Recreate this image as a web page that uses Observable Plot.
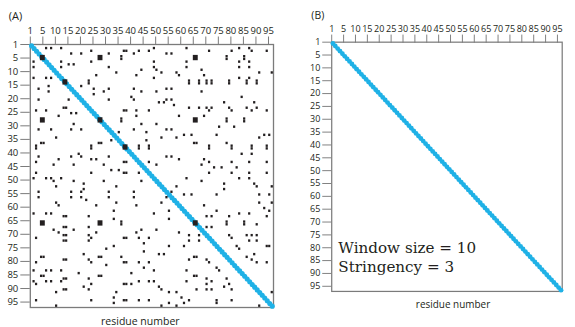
<!DOCTYPE html>
<html><head><meta charset="utf-8">
<script src="https://cdn.jsdelivr.net/npm/d3@7"></script>
<script src="https://cdn.jsdelivr.net/npm/@observablehq/plot@0.6"></script>
<style>
html,body{margin:0;padding:0;background:#fff;overflow:hidden}
#wrap{position:relative;width:575px;height:327px;overflow:hidden;background:#fff}
#a,#b{position:absolute;top:0}
#a{left:0}
#b{left:303px}
</style></head><body>
<div id="wrap"><div id="a"></div><div id="b"></div></div>
<script>
// residue positions of the sequence (compared against itself)
const residues = [1,2,3,4,5,6,7,8,9,10,11,12,13,14,15,16,17,18,19,20,21,22,23,24,25,26,27,28,29,30,31,32,33,34,35,36,37,38,39,40,41,42,43,44,45,46,47,48,49,50,51,52,53,54,55,56,57,58,59,60,61,62,63,64,65,66,67,68,69,70,71,72,73,74,75,76,77,78,79,80,81,82,83,84,85,86,87,88,89,90,91,92,93,94,95,96,97];

// axis ticks
const tickValues = [0,5,10,15,20,25,30,35,40,45,50,55,60,65,70,75,80,85,90,95];
const tickLabels = ["1","5","10","15","20","25","30","35","40","45","50","55","60","65","70","75","80","85","90","95"];

// matches (x residue, y residue) read above the diagonal in panel A; the self-comparison is symmetric
const upperMatches = [
  [7,2],[9,2],[13,2],[17,4],[21,4],[25,3],[32,4],[38,3],[39,3],[42,4],[44,3],[48,3],[50,2],[55,4],[57,4],[63,2],[72,3],[81,3],[84,2],[88,2],[89,3],[95,3],
  [37,5],[37,6],[79,5],[79,6],[86,5],[86,6],
  [13,7],[13,9],[16,8],[18,8],[25,7],[32,9],[50,7],[50,9],[51,10],[53,11],[63,7],[63,9],[84,7],[84,9],[88,7],[88,9],[35,11],[27,12],[43,12],[45,10],[59,11],[60,12],[69,10],[70,12],[92,11],[97,11],[50,13],[84,13],[88,13],
  [24,14],[24,15],[64,14],[64,15],[68,14],[68,15],[71,14],[71,15],[73,14],[73,15],[80,14],[80,15],[87,14],[87,15],[91,14],[91,15],
  [21,16],[26,17],[26,19],[32,17],[32,21],[30,18],[42,17],[45,18],[51,18],[55,17],[57,17],[69,18],[41,20],[42,21],[52,22],[54,22],[55,21],[57,21],[58,23],[78,22],[85,20],[90,22],
  [38,25],[39,25],[43,25],[48,25],[64,24],[68,24],[71,24],[72,25],[73,24],[80,24],[81,25],[87,24],[89,25],[91,24],[95,25],[60,27],[70,27],[43,27],
  [37,28],[37,29],[79,28],[79,29],[86,28],[86,29],
  [45,30],[51,30],[76,31],[82,31],[42,32],[47,33],[55,32],[57,32],[36,33],[53,35],[59,35],[62,34],[65,34],[75,34],[92,35],[94,34],[96,34],[47,36],
  [66,37],[67,37],[79,37],[44,38],[44,39],[48,38],[48,39],[72,38],[72,39],[81,38],[81,39],[89,38],[89,39],[95,38],[95,39],
  [85,41],[89,41],[55,42],[57,42],[60,43],[70,43],[69,45],[72,44],[81,44],[88,44],[95,44],[48,44],[51,45],[83,46],[74,46],[77,46],[72,48],[81,48],[88,48],[95,48],
  [63,50],[69,51],[84,50],[88,50],[78,52],[78,54],[90,52],[91,53],[59,53],[57,55],[97,53],[62,56],[65,56],[75,56],[92,56],[96,56],[92,59],[97,59],
  [70,60],[75,62],[80,64],[84,63],[88,63],[94,61],[96,62],[71,64],[73,64],[95,64],[79,66],[79,67],[86,66],[86,67],
  [71,68],[73,68],[91,67],[80,71],[81,72],[87,71],[89,71],[91,71],[88,73],[91,73],[83,75],[84,76],[87,79],[89,80],[90,78],[91,81],[95,81],[95,75],[96,75],[97,92]
];
// larger (2x2) match blocks, top-left residue
const upperBlocks = [[5,5],[14,14],[28,28],[38,38],[66,66],[28,5],[66,5],[66,28]];

const matches = upperMatches.concat(upperMatches.map(([x, y]) => [y, x]));
const blocks = upperBlocks.concat(upperBlocks.filter(([x, y]) => x !== y).map(([x, y]) => [y, x]));

const blue = "#1fb1e6";
const ink = "#231f20";
const gray = "#7b7b7b";
const labelOf = new Map(tickValues.map((v, i) => [v, tickLabels[i]]));

function panel(opts) {
  const marks = [
    Plot.frame({stroke: gray, strokeWidth: 1.3}),
    Plot.axisX(tickValues, {anchor: "top", tickSize: 8.5, tickPadding: 2, stroke: gray, fill: ink, fontSize: 9.5, tickFormat: d => labelOf.get(d), label: null}),
    Plot.axisY(tickValues, {anchor: "left", tickSize: 9.5, tickPadding: 2.5, stroke: gray, fill: ink, fontSize: 9.5, tickFormat: d => labelOf.get(d), label: null}),
    Plot.dot(residues, {x: d => d - 0.5, y: d => d - 0.5, r: 2.55, fill: blue, stroke: "none"})
  ];
  if (opts.showMatches) {
    marks.push(Plot.rect(matches, {x1: d => d[0] - 1, x2: d => d[0], y1: d => d[1] - 1, y2: d => d[1], inset: 0.15, fill: ink}));
    marks.push(Plot.rect(blocks, {x1: d => d[0] - 1, x2: d => d[0] + 1, y1: d => d[1] - 1, y2: d => d[1] + 1, inset: 0.05, fill: ink}));
  }
  marks.push(Plot.text([opts.tag], {frameAnchor: "top-left", textAnchor: "start", lineAnchor: "middle", dx: -21.5, dy: -28, fontSize: 11, fill: ink}));
  marks.push(Plot.text(["residue number"], {frameAnchor: "bottom-left", textAnchor: "middle", lineAnchor: "middle", dx: opts.labelDx, dy: 14, fontSize: 10.5, fill: ink}));
  if (opts.note) {
    marks.push(Plot.text([opts.note], {frameAnchor: "bottom-left", textAnchor: "start", lineAnchor: "bottom", dx: 7, dy: -21, fontSize: 16, lineHeight: 1.25, fontFamily: "DejaVu Serif", fill: ink}));
  }
  return Plot.plot({
    width: 287, height: 327,
    marginLeft: 29.8, marginTop: 44, marginRight: 14, marginBottom: 20,
    style: {fontFamily: "'Open Sans', sans-serif", color: ink, background: "transparent", overflow: "visible"},
    x: {domain: [0, 97], axis: null},
    y: {domain: [0, 97], reverse: true, axis: null},
    marks
  });
}

document.getElementById("a").appendChild(panel({showMatches: true, tag: "(A)", labelDx: 110}));
document.getElementById("b").appendChild(panel({showMatches: false, tag: "(B)", labelDx: 128, note: "Window size = 10\nStringency = 3"}));
</script>
</body></html>
